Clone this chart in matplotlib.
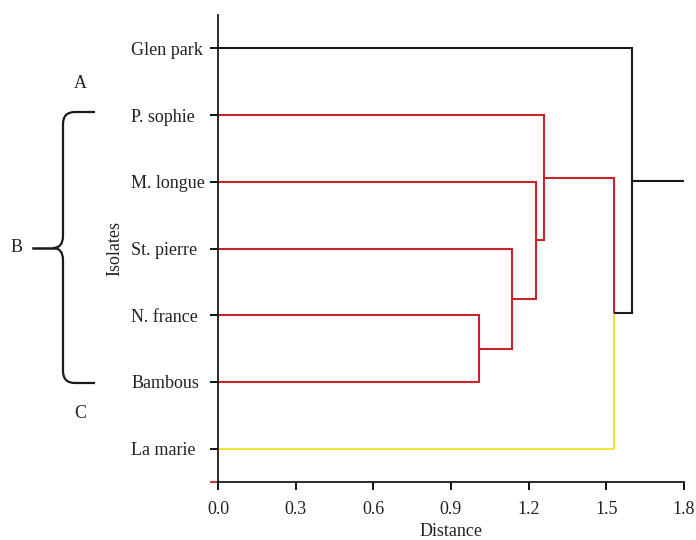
import matplotlib
matplotlib.use("Agg")
import matplotlib.pyplot as plt
from matplotlib.path import Path
from matplotlib.patches import PathPatch

plt.rcParams['font.family'] = ['Liberation Serif', 'DejaVu Serif']

# ---- data ----
leaves = ['Glen park', 'P. sophie', 'M. longue', 'St. pierre', 'N. france', 'Bambous', 'La marie']
leaf_colors = ['black', 'red', 'red', 'red', 'red', 'red', 'yellow']
# merges: node index = len(leaves) + i
merge_a = [4, 3, 2, 1, 10, 0]
merge_b = [5, 7, 8, 9, 6, 11]
merge_height = [1.01, 1.135, 1.23, 1.26, 1.53, 1.60]
merge_colors = ['red', 'red', 'red', 'red', 'black', 'black']
x_max = 1.8
xticks = [0.0, 0.3, 0.6, 0.9, 1.2, 1.5, 1.8]

palette = {'red': '#c9222c', 'yellow': '#f2e633', 'black': '#1a1a1a'}

W, H, DPI = 696, 540, 100
fig = plt.figure(figsize=(W / DPI, H / DPI), dpi=DPI)
ax = fig.add_axes([218 / W, 1 - 482 / H, (684 - 218) / W, (482 - 15) / H])

n = len(leaves)
ypos = {i: float(n - i) for i in range(n)}
xpos = {i: 0.0 for i in range(n)}
col = {i: leaf_colors[i] for i in range(n)}
for k, (a, b, h, c) in enumerate(zip(merge_a, merge_b, merge_height, merge_colors)):
    node = n + k
    ypos[node] = (ypos[a] + ypos[b]) / 2
    xpos[node] = h
    col[node] = c
    for child in (a, b):
        ax.plot([xpos[child], h, h], [ypos[child], ypos[child], ypos[node]],
                color=palette[col[child]], lw=1.5, solid_joinstyle='miter',
                solid_capstyle='butt', zorder=2)
root = n + len(merge_height) - 1
ax.plot([xpos[root], x_max], [ypos[root], ypos[root]], color=palette[col[root]],
        lw=1.5, solid_capstyle='butt', zorder=2)

ax.set_xlim(0, x_max)
ax.set_ylim(0.5, n + 0.5)
for s in ('top', 'right'):
    ax.spines[s].set_visible(False)
for s in ('left', 'bottom'):
    ax.spines[s].set_linewidth(1.3)
    ax.spines[s].set_color('#1a1a1a')

ax.set_xticks(xticks)
ax.set_xticklabels([f'{v:.1f}' for v in xticks], fontsize=13, color='#222222')
ax.tick_params(axis='x', direction='out', length=6, width=1.3, pad=8)

ax.set_yticks([ypos[i] for i in range(n)])
ax.set_yticklabels(leaves, fontsize=13, color='#222222', ha='left')
ax.tick_params(axis='y', direction='out', length=5.5, width=1.3, pad=57)
ax.set_yticks([0.5], minor=True)
ax.tick_params(axis='y', which='minor', length=5.5, width=1.3, color=palette['red'])

ax.set_xlabel('Distance', fontsize=13, color='#222222', labelpad=3.5)
fig.text(115 / W, 1 - 248 / H, 'Isolates', rotation=90, ha='center', va='center',
         fontsize=13, color='#222222')

# bracket with group letters
def P(x, y):
    return (x / W, 1 - y / H)

verts = [P(95, 112), P(75, 112), P(63, 112), P(63, 124), P(63, 236), P(63, 248), P(53, 248),
         P(63, 248), P(63, 260), P(63, 371), P(63, 383), P(75, 383), P(95, 383)]
codes = [Path.MOVETO, Path.LINETO, Path.CURVE3, Path.CURVE3, Path.LINETO, Path.CURVE3, Path.CURVE3,
         Path.CURVE3, Path.CURVE3, Path.LINETO, Path.CURVE3, Path.CURVE3, Path.LINETO]
fig.add_artist(PathPatch(Path(verts, codes), fill=False, lw=1.6, ec='#1a1a1a',
                         transform=fig.transFigure))
fig.add_artist(plt.Line2D([33 / W, 54 / W], [1 - 248 / H] * 2, lw=1.8, color='#1a1a1a',
                          transform=fig.transFigure))
for letter, x, y in (('A', 80, 83), ('B', 17, 248), ('C', 80, 414)):
    fig.text(x / W, 1 - y / H, letter, ha='center', va='center', fontsize=13, color='#222222')

fig.savefig('out.png', dpi=DPI)
